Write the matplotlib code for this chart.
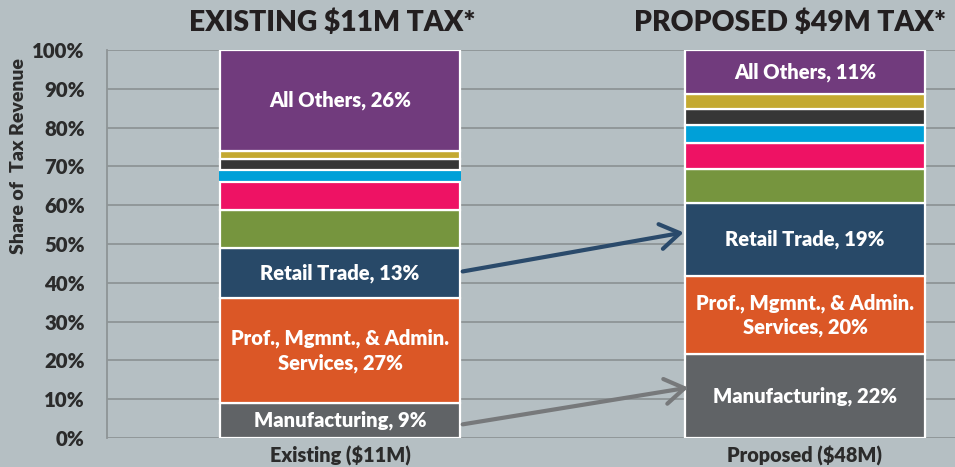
import numpy as np
import matplotlib.pyplot as plt

plt.rcParams['font.family'] = ['Lato', 'DejaVu Sans']

# data (share of tax revenue, %), bottom to top
scenarios = ['Existing ($11M)', 'Proposed ($48M)']
titles = ['EXISTING $11M TAX*', 'PROPOSED $49M TAX*']
sectors = ['Manufacturing', 'Prof., Mgmnt., & Admin.\nServices', 'Retail Trade',
           'Sector 4', 'Sector 5', 'Sector 6', 'Sector 7', 'Sector 8', 'All Others']
existing = [9, 27, 13, 9.7, 7.3, 3.2, 2.7, 2.1, 26]
proposed = [21.6, 20.2, 18.8, 8.7, 6.7, 4.7, 4.1, 3.9, 11.3]
existing_pct = [9, 27, 13, None, None, None, None, None, 26]
proposed_pct = [22, 20, 19, None, None, None, None, None, 11]
colors = ['#606366', '#db5726', '#284968', '#76953e', '#ee1264',
          '#00a0d8', '#363636', '#c4a930', '#713b7d']

bg = '#b5bfc3'
fw = 'heavy'
fig = plt.figure(figsize=(9.55, 4.67), dpi=100, facecolor=bg)
ax = fig.add_axes([107 / 955, 29 / 467, 848 / 955, 388 / 467])
ax.set_facecolor(bg)

x = np.arange(len(scenarios))
width = 0.516
for i, vals in enumerate([existing, proposed]):
    pcts = [existing_pct, proposed_pct][i]
    bottom = 0
    for j, v in enumerate(vals):
        if i == 0 and j == 5:
            # the light blue slice of the first bar has no white outline
            ax.bar(x[i], v, width + 0.006, bottom=bottom, color=colors[j],
                   linewidth=0, zorder=2.9)
        else:
            ax.bar(x[i], v, width, bottom=bottom, color=colors[j],
                   edgecolor='white', linewidth=1.6, zorder=3)
        if pcts[j] is not None:
            ax.text(x[i], bottom + v / 2, '%s, %d%%' % (sectors[j], pcts[j]),
                    ha='center', va='center', color='white', fontsize=14.5,
                    fontweight=fw, linespacing=1.3, zorder=4)
        bottom += v

ax.set_xlim(-0.501, 1.3226)
ax.set_ylim(0, 100)
ax.set_yticks(np.arange(0, 101, 10))
ax.set_yticklabels(['%d%%' % t for t in range(0, 101, 10)],
                   fontsize=14.7, fontweight=fw, color='#2b2b2b')
ax.set_xticks(x)
ax.set_xticklabels(scenarios, fontsize=14.3, fontweight=fw, color='#2b2b2b')
ax.tick_params(length=0)
ax.tick_params(axis='y', pad=16)
ax.tick_params(axis='x', pad=5.5)
ax.grid(axis='y', color='#8e9496', linewidth=1.3, zorder=0)
for s in ['top', 'right', 'bottom']:
    ax.spines[s].set_visible(False)
ax.spines['left'].set_color('#8e9496')
ax.spines['left'].set_linewidth(1.3)

# headers above each bar
fig.text(332 / 955, 1 - 23 / 467, titles[0], ha='center', va='center',
         fontsize=20.3, fontweight=fw, color='#231f20')
fig.text(790 / 955, 1 - 23 / 467, titles[1], ha='center', va='center',
         fontsize=20.3, fontweight=fw, color='#231f20')
fig.text(18 / 955, 1 - 156 / 467, 'Share of  Tax Revenue', rotation=90,
         ha='center', va='center', fontsize=14, fontweight=fw, color='#2b2b2b')

# arrows from existing to proposed
edge = x[0] + width / 2
ax.annotate('', xy=(0.745, 53.1), xytext=(edge, 42.8),
            arrowprops=dict(arrowstyle='->,head_length=0.7,head_width=0.45',
                            color='#2a4a6b', lw=3, mutation_scale=20), zorder=5)
ax.annotate('', xy=(0.755, 13.1), xytext=(edge, 3.4),
            arrowprops=dict(arrowstyle='->,head_length=0.7,head_width=0.45',
                            color='#77797b', lw=3, mutation_scale=20), zorder=5)

fig.savefig('out.png', dpi=100, facecolor=bg)
